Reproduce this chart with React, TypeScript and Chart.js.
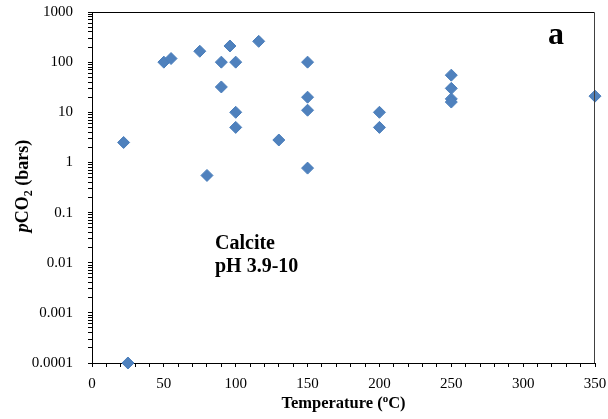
import React, { useEffect, useRef } from "react";
import { Chart, registerables } from "chart.js";

Chart.register(...registerables);

// Data
const temperatureC = [22, 25, 50, 55, 75, 80, 90, 90, 96, 100, 100, 100, 116, 130, 150, 150, 150, 150, 200, 200, 250, 250, 250, 250, 350];
const pco2Bars = [2.5, 0.0001, 100, 118, 165, 0.55, 100, 32, 210, 100, 10, 5, 260, 2.8, 100, 20, 11, 0.77, 10, 5, 55, 30, 18.5, 16, 21];

const xTickValues = [0, 10, 20, 30, 40, 50, 60, 70, 80, 90, 100, 110, 120, 130, 140, 150, 160, 170, 180, 190, 200, 210, 220, 230, 240, 250, 260, 270, 280, 290, 300, 310, 320, 330, 340, 350];
const xTickLabels = ["0", "50", "100", "150", "200", "250", "300", "350"];
const yDecadeExponents = [-4, -3, -2, -1, 0, 1, 2, 3];
const yTickLabels = ["0.0001", "0.001", "0.01", "0.1", "1", "10", "100", "1000"];

const SERIF = '"Liberation Serif", "Times New Roman", serif';

function buildYTicks() {
  const vals: number[] = [];
  for (const e of yDecadeExponents) {
    if (e === 3) {
      vals.push(parseFloat(`1e${e}`));
    } else {
      for (let m = 1; m <= 9; m++) vals.push(parseFloat(`${m}e${e}`));
    }
  }
  return vals;
}

type Seg = { t: string; font: string; dy?: number };

function drawSegs(ctx: CanvasRenderingContext2D, segs: Seg[]) {
  let total = 0;
  const widths = segs.map((s) => {
    ctx.font = s.font;
    const w = ctx.measureText(s.t).width;
    total += w;
    return w;
  });
  let x = -total / 2;
  segs.forEach((s, i) => {
    ctx.font = s.font;
    ctx.fillText(s.t, x, s.dy || 0);
    x += widths[i];
  });
}

const overlayPlugin = {
  id: "overlay",
  afterDraw(chart: any) {
    const ctx: CanvasRenderingContext2D = chart.ctx;
    const a = chart.chartArea;
    ctx.save();
    // frame: top and right
    ctx.lineWidth = 1;
    ctx.strokeStyle = "#000";
    const top = Math.round(a.top) + 0.5;
    const right = Math.round(a.right) - 0.5;
    ctx.beginPath();
    ctx.moveTo(a.left, top);
    ctx.lineTo(right, top);
    ctx.stroke();
    ctx.strokeStyle = "#404040";
    ctx.beginPath();
    ctx.moveTo(right, top);
    ctx.lineTo(right, a.bottom);
    ctx.stroke();

    ctx.fillStyle = "#000";
    ctx.textBaseline = "alphabetic";
    ctx.textAlign = "left";
    // panel letter
    ctx.font = `bold 32px ${SERIF}`;
    ctx.fillText("a", 548, 44);
    // annotation
    ctx.font = `bold 20px ${SERIF}`;
    ctx.fillText("Calcite", 215, 249);
    ctx.fillText("pH 3.9-10", 215, 272);

    // x title
    ctx.save();
    ctx.translate((a.left + a.right) / 2, 408);
    drawSegs(ctx, [
      { t: "Temperature (", font: `bold 16.5px ${SERIF}` },
      { t: "o", font: `bold 11px ${SERIF}`, dy: -6 },
      { t: "C)", font: `bold 16.5px ${SERIF}` },
    ]);
    ctx.restore();

    // y title
    ctx.save();
    ctx.translate(28, 186);
    ctx.rotate(-Math.PI / 2);
    drawSegs(ctx, [
      { t: "p", font: `italic bold 18px ${SERIF}` },
      { t: "CO", font: `bold 18px ${SERIF}` },
      { t: "2", font: `bold 12px ${SERIF}`, dy: 4 },
      { t: " (bars)", font: `bold 18px ${SERIF}` },
    ]);
    ctx.restore();

    ctx.restore();
  },
};

export default function App() {
  const canvasRef = useRef<HTMLCanvasElement | null>(null);

  useEffect(() => {
    if (!canvasRef.current) return;
    const yTicks = buildYTicks();
    const chart = new Chart(canvasRef.current, {
      type: "scatter",
      data: {
        datasets: [
          {
            data: temperatureC.map((t, i) => ({ x: t, y: pco2Bars[i] })),
            pointStyle: "rectRot",
            pointRadius: 6,
            pointHoverRadius: 6,
            backgroundColor: "#4F81BD",
            borderColor: "#4A7EBB",
            borderWidth: 1,
            clip: false,
          } as any,
        ],
      },
      options: {
        animation: false,
        responsive: true,
        maintainAspectRatio: false,
        layout: { padding: { top: 12, right: 13, left: 0, bottom: 0 } },
        plugins: { legend: { display: false }, tooltip: { enabled: false } },
        scales: {
          x: {
            type: "linear",
            min: 0,
            max: 350,
            afterBuildTicks: (scale: any) => {
              scale.ticks = xTickValues.map((v) => ({ value: v }));
            },
            afterFit: (scale: any) => {
              scale.height = 56;
              scale.paddingLeft = 0;
              scale.paddingRight = 0;
            },
            grid: { display: true, drawOnChartArea: false, drawTicks: true, tickLength: 4, color: "#000" },
            border: { display: true, color: "#000", width: 1 },
            ticks: {
              autoSkip: false,
              maxRotation: 0,
              padding: 8,
              color: "#000",
              font: { family: SERIF, size: 15 },
              callback: (v: any) => {
                const s = String(Math.round(Number(v)));
                return xTickLabels.includes(s) ? s : "";
              },
            },
          },
          y: {
            type: "logarithmic",
            min: 0.0001,
            max: 1000,
            afterBuildTicks: (scale: any) => {
              scale.ticks = yTicks.map((v) => ({ value: v }));
            },
            afterFit: (scale: any) => {
              scale.width = 92;
              scale.paddingTop = 0;
              scale.paddingBottom = 0;
            },
            grid: { display: true, drawOnChartArea: false, drawTicks: true, tickLength: 4, color: "#000" },
            border: { display: true, color: "#000", width: 1 },
            ticks: {
              autoSkip: false,
              padding: 15,
              color: "#000",
              font: { family: SERIF, size: 15 },
              callback: (v: any) => {
                const lg = Math.log10(Number(v));
                const r = Math.round(lg);
                if (Math.abs(lg - r) > 1e-6) return "";
                const idx = yDecadeExponents.indexOf(r);
                return idx >= 0 ? yTickLabels[idx] : "";
              },
            },
          },
        },
      },
      plugins: [overlayPlugin],
    });
    return () => chart.destroy();
  }, []);

  return (
    <div style={{ position: "absolute", left: 0, top: 0, width: 608, height: 419, background: "#fff" }}>
      <canvas ref={canvasRef} />
    </div>
  );
}
